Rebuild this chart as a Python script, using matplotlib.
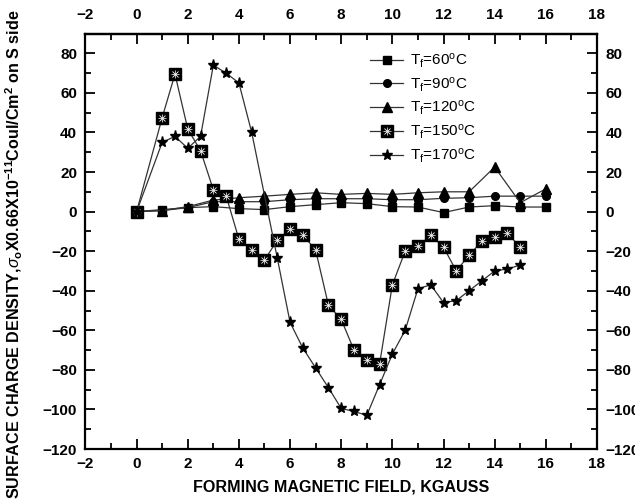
import matplotlib
matplotlib.use("Agg")
import matplotlib.pyplot as plt
from matplotlib.ticker import MultipleLocator

plt.rcParams['font.family'] = ['Liberation Sans', 'DejaVu Sans']
plt.rcParams['mathtext.fontset'] = 'custom'
plt.rcParams['mathtext.rm'] = 'Liberation Sans'
plt.rcParams['mathtext.it'] = 'Liberation Sans:italic'
plt.rcParams['mathtext.bf'] = 'Liberation Sans:bold'

# Data
x_low = [0, 1, 2, 3, 4, 5, 6, 7, 8, 9, 10, 11, 12, 13, 14, 15, 16]
t60 = [0, 1, 2, 2.5, 1.5, 1, 2.5, 3.5, 4.5, 4, 2.5, 2.3, -0.5, 2.3, 3, 2.3, 2.3]
t90 = [0, 0.5, 2, 5, 5, 5, 6, 6.5, 6.5, 6.5, 6, 6, 6.7, 7, 7.8, 7.8, 7.8]
t120 = [0, 0.5, 2.5, 5.8, 7, 7.8, 8.7, 9.5, 8.7, 9.2, 8.7, 9.5, 10, 10, 22.5, 4.5, 11.5]

x150 = [0, 1, 1.5, 2, 2.5, 3, 3.5, 4, 4.5, 5, 5.5, 6, 6.5, 7, 7.5, 8, 8.5, 9, 9.5,
        10, 10.5, 11, 11.5, 12, 12.5, 13, 13.5, 14, 14.5, 15]
t150 = [0, 47.5, 69.5, 41.7, 30.8, 11, 8, -14, -19.5, -24.5, -14.5, -8.7, -11.7, -19.5,
        -47.3, -54.5, -70, -75, -77, -37, -20, -17.5, -12, -18, -30, -22, -15, -13, -11, -18]

x170 = [0, 1, 1.5, 2, 2.5, 3, 3.5, 4, 4.5, 5.5, 6, 6.5, 7, 7.5, 8, 8.5, 9, 9.5,
        10, 10.5, 11, 11.5, 12, 12.5, 13, 13.5, 14, 14.5, 15]
t170 = [0, 35, 38, 32, 38, 74, 70, 65, 40, -23.5, -56, -69, -79, -89, -99.5, -101, -103,
        -87.5, -72, -60, -39, -37, -46, -45, -40, -35, -30, -29, -27]

labels = [r'T$_\mathregular{f}$=60$^\mathregular{o}$C', r'T$_\mathregular{f}$=90$^\mathregular{o}$C',
          r'T$_\mathregular{f}$=120$^\mathregular{o}$C', r'T$_\mathregular{f}$=150$^\mathregular{o}$C',
          r'T$_\mathregular{f}$=170$^\mathregular{o}$C']

fig = plt.figure(figsize=(6.35, 5.04), dpi=100)
ax = fig.add_axes([0.1346, 0.1091, 0.8055, 0.8244])

lc = '#333333'
lw = 0.9
h60, = ax.plot(x_low, t60, '-', color=lc, lw=lw, marker='s', ms=5.5, mfc='black', mec='black')
h90, = ax.plot(x_low, t90, '-', color=lc, lw=lw, marker='o', ms=5.5, mfc='black', mec='black')
h120, = ax.plot(x_low, t120, '-', color=lc, lw=lw, marker='^', ms=6.5, mfc='black', mec='black')
h150a, = ax.plot(x150, t150, '-', color=lc, lw=lw, marker='s', ms=8, mfc='black', mec='black')
h150b, = ax.plot(x150, t150, ls='none', marker='x', ms=4.5, mec='white', mew=0.6)
h150c, = ax.plot(x150, t150, ls='none', marker='+', ms=5.5, mec='white', mew=0.5)
h170, = ax.plot(x170, t170, '-', color=lc, lw=lw, marker='*', ms=8, mfc='black', mec='black')

ax.set_xlim(-2, 18)
ax.set_ylim(-120, 90)
ax.xaxis.set_major_locator(MultipleLocator(2))
ax.xaxis.set_minor_locator(MultipleLocator(1))
ax.yaxis.set_major_locator(MultipleLocator(20))
ax.yaxis.set_minor_locator(MultipleLocator(10))
ax.tick_params(which='both', direction='in', top=False, right=True,
               labeltop=False, labelright=True, width=1.3)
ax.tick_params(which='major', length=7, labelsize=11, pad=6)
ax.tick_params(which='minor', length=4)
for lab in ax.get_xticklabels() + ax.get_yticklabels():
    lab.set_fontweight('bold')
for s in ax.spines.values():
    s.set_linewidth(1.6)

sec = ax.secondary_xaxis('top')
sec.xaxis.set_major_locator(MultipleLocator(2))
sec.xaxis.set_minor_locator(MultipleLocator(1))
sec.tick_params(which='both', direction='in', width=1.3)
sec.tick_params(which='major', length=7, labelsize=11, pad=8)
sec.tick_params(which='minor', length=4)
sec.spines['top'].set_linewidth(1.6)
for lab in sec.get_xticklabels():
    lab.set_fontweight('bold')

ax.set_xlabel('FORMING MAGNETIC FIELD, KGAUSS', fontsize=11.6, fontweight='bold', labelpad=6)
ax.set_ylabel(r'SURFACE CHARGE DENSITY,$\sigma_\mathbf{o}$X0.66X10$^\mathbf{-11}$Coul/Cm$^\mathbf{2}$ on S side',
              fontsize=11.6, fontweight='bold')
ax.yaxis.set_label_coords(-0.118, 0.469)

leg = ax.legend([h60, h90, h120, (h150a, h150b, h150c), h170], labels,
                loc='upper left', bbox_to_anchor=(0.529, 0.99), frameon=False,
                fontsize=11, handlelength=2.2, handletextpad=0.4, labelspacing=0.35)

fig.savefig('out.png', dpi=100)
